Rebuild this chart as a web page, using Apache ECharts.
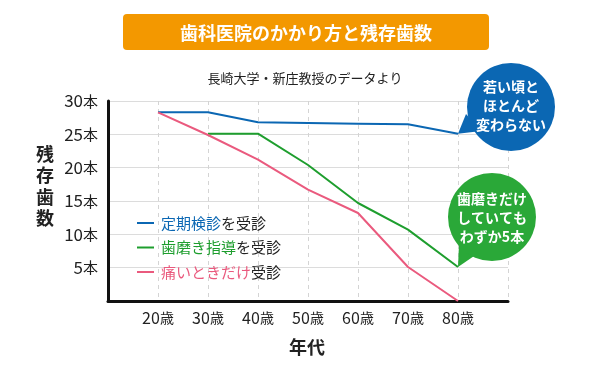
<!DOCTYPE html>
<html><head><meta charset="utf-8">
<script src="https://cdn.jsdelivr.net/npm/echarts@6/dist/echarts.min.js"></script>
<style>html,body{margin:0;padding:0;background:#fff}#c{width:590px;height:370px}</style>
</head><body><div id="c"></div>
<script>
const ages = [20, 30, 40, 50, 60, 70, 80];
const ageLabels = ['20歳','30歳','40歳','50歳','60歳','70歳','80歳'];
const yTicks = [5, 10, 15, 20, 25, 30];
const seriesNames = ['定期検診を受診', '歯磨き指導を受診', '痛いときだけ受診'];
const regular = [28.3, 28.3, 26.8, 26.7, 26.6, 26.5, 25.1];
const brushing = [null, 25.1, 25.1, 20.4, 14.7, 10.7, 5.1];
const painOnly = [28.3, 24.9, 21.2, 16.7, 13.2, 5.1, 0];

const FONT = '"Noto Sans CJK JP", "Noto Sans", sans-serif';
const BLUE = '#0b67b3', GREEN = '#1e9e2e', PINK = '#ea5a7e';
const pairs = arr => ages.map((a, i) => arr[i] == null ? null : [a, arr[i]]).filter(d => d);

const chart = echarts.init(document.getElementById('c'));
const legendFmt = {
  '定期検診を受診': '{b|定期検診}{k|を受診}',
  '歯磨き指導を受診': '{g|歯磨き指導}{k|を受診}',
  '痛いときだけ受診': '{p|痛いときだけ}{k|受診}'
};
const mk = (name, data, color) => ({
  name, type: 'line', data: pairs(data), showSymbol: false, symbol: 'none',
  lineStyle: { color, width: 2 }, itemStyle: { color }, z: 3
});
chart.setOption({
  animation: false,
  textStyle: { fontFamily: FONT },
  grid: { left: 108, right: 82, top: 101, bottom: 69 },
  xAxis: {
    type: 'value', min: 10, max: 90, interval: 10,
    axisLine: { show: true, onZero: false, lineStyle: { color: '#111', width: 3 } },
    axisTick: { show: false },
    axisLabel: {
      margin: 9,
      formatter: v => { const i = ages.indexOf(v); return i < 0 ? '' : '{n|' + ageLabels[i].replace('歳','') + '}{u|歳}'; },
      rich: { n: { fontSize: 16, color: '#222', fontFamily: FONT }, u: { fontSize: 14, color: '#222', fontFamily: FONT } }
    },
    splitLine: { show: true, lineStyle: { color: '#d4d4d4', type: [4, 4], width: 1 } }
  },
  yAxis: {
    type: 'value', min: 0, max: 30, interval: 5,
    axisLine: { show: true, lineStyle: { color: '#111', width: 3 } },
    axisTick: { show: false },
    axisLabel: {
      margin: 10,
      formatter: v => yTicks.includes(v) ? '{n|' + v + '}{u|本}' : '',
      rich: { n: { fontSize: 17, color: '#222', fontFamily: FONT }, u: { fontSize: 15, color: '#222', fontFamily: FONT } }
    },
    splitLine: { show: true, lineStyle: { color: '#dcdcdc', width: 1 } }
  },
  legend: {
    orient: 'vertical', left: 137, top: 213, padding: 0, itemGap: 4.5, itemWidth: 17, itemHeight: 2, icon: 'rect',
    data: seriesNames,
    formatter: n => legendFmt[n],
    textStyle: {
      fontSize: 15, lineHeight: 20, padding: [0, 0, 0, 2],
      rich: {
        b: { color: BLUE, fontSize: 15, fontFamily: FONT },
        g: { color: GREEN, fontSize: 15, fontFamily: FONT },
        p: { color: PINK, fontSize: 15, fontFamily: FONT },
        k: { color: '#222', fontSize: 15, fontFamily: FONT }
      }
    }
  },
  series: [mk(seriesNames[0], regular, BLUE), mk(seriesNames[1], brushing, GREEN), mk(seriesNames[2], painOnly, PINK)]
});

const tipB = chart.convertToPixel({ gridIndex: 0 }, [80, regular[6]]);
const tipG = chart.convertToPixel({ gridIndex: 0 }, [80, brushing[6]]);
chart.setOption({
  graphic: [
    { type: 'rect', shape: { x: 123, y: 14, width: 366, height: 36, r: 4 }, style: { fill: '#f39800' }, z: 10 },
    { type: 'text', x: 306, y: 33, z: 11, style: { text: '歯科医院のかかり方と残存歯数', fill: '#fff', font: 'bold 18px ' + FONT, align: 'center', verticalAlign: 'middle' } },
    { type: 'text', x: 305, y: 78, z: 11, style: { text: '長崎大学・新庄教授のデータより', fill: '#222', font: '13px ' + FONT, align: 'center', verticalAlign: 'middle' } },
    { type: 'text', x: 45, y: 186, z: 11, style: { text: '残\n存\n歯\n数', fill: '#222', font: 'bold 18px ' + FONT, lineHeight: 21.5, align: 'center', verticalAlign: 'middle' } },
    { type: 'text', x: 307, y: 347, z: 11, style: { text: '年代', fill: '#222', font: 'bold 18px ' + FONT, align: 'center', verticalAlign: 'middle' } },
    { type: 'polygon', shape: { points: [tipB, [466, 114], [481, 131]] }, style: { fill: BLUE }, z: 10 },
    { type: 'circle', shape: { cx: 511, cy: 107, r: 44 }, style: { fill: BLUE }, z: 10 },
    { type: 'text', x: 511, y: 106, z: 11, style: { text: '若い頃と\nほとんど\n変わらない', fill: '#fff', font: 'bold 14px ' + FONT, lineHeight: 19, align: 'center', verticalAlign: 'middle' } },
    { type: 'polygon', shape: { points: [tipG, [459, 244], [477, 254]] }, style: { fill: '#2aa838' }, z: 10 },
    { type: 'circle', shape: { cx: 492, cy: 217, r: 44 }, style: { fill: '#2aa838' }, z: 10 },
    { type: 'text', x: 492, y: 218, z: 11, style: { text: '歯磨きだけ\nしていても\nわずか5本', fill: '#fff', font: 'bold 14px ' + FONT, lineHeight: 19, align: 'center', verticalAlign: 'middle' } }
  ]
});
</script></body></html>
